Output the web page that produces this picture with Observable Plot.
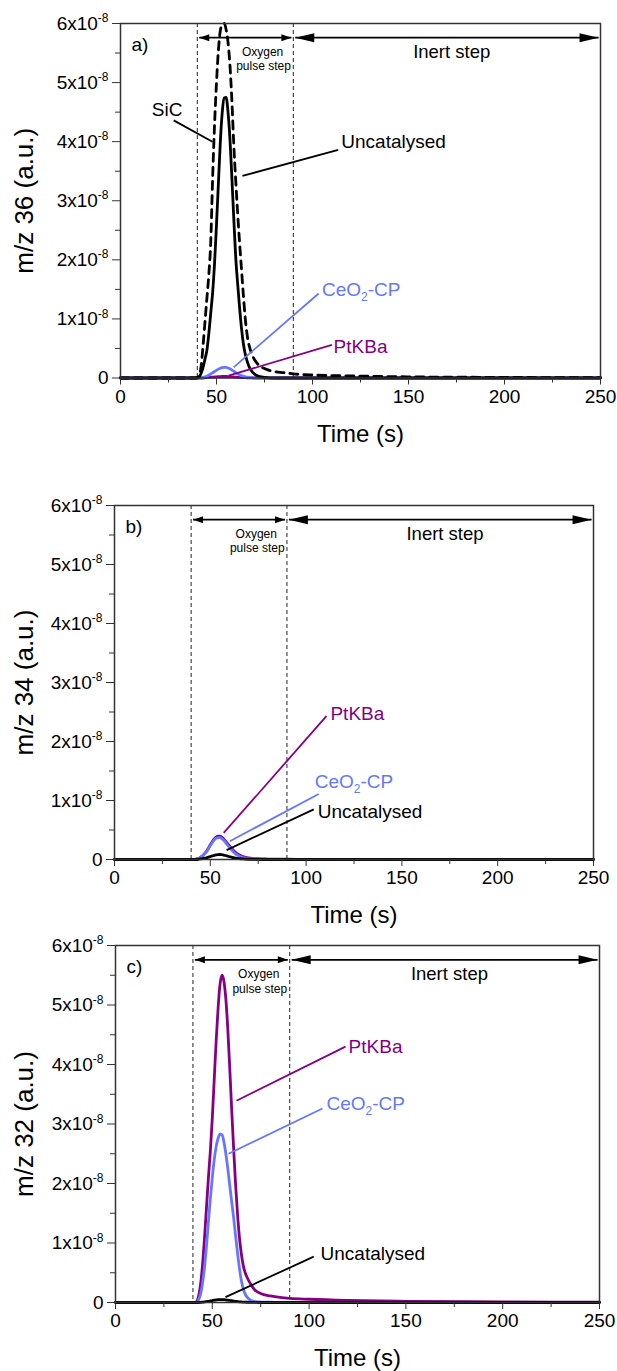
<!DOCTYPE html>
<html><head><meta charset="utf-8">
<script src="https://cdn.jsdelivr.net/npm/d3@7"></script>
<script src="https://cdn.jsdelivr.net/npm/@observablehq/plot@0.6"></script>
<style>
body{margin:0;background:#fff;}
#wrap{position:relative;width:617px;height:1371px;background:#fff;}
.panel{position:absolute;left:0;}
</style></head><body><div id="wrap"></div>
<script>
// ---------- data (values in units of 1e-8 a.u.) ----------
const time = [0,20,38,40,41,42,43,44,45,46,47,48,49,50,51,52,53,54,55,56,57,58,59,60,61,62,63,64,65,66,67,68,70,72,75,80,85,90,100,120,150,200,250];

// panel a: m/z 36
const a_SiC = [0,0,0,0.01,0.05,0.2,0.55,0.95,1.35,1.75,2.3,3.4,4.3,5.0,5.55,5.88,5.98,6.0,5.9,5.68,5.3,4.7,3.95,3.35,2.8,2.3,1.85,1.4,1.0,0.72,0.55,0.44,0.3,0.22,0.16,0.11,0.09,0.07,0.05,0.035,0.02,0.01,0.005];
const a_Uncat = [0,0,0,0,0.02,0.08,0.18,0.32,0.47,0.75,1.1,1.45,1.95,2.6,3.3,4.0,4.5,4.74,4.75,4.5,4.05,3.4,2.7,2.05,1.6,1.2,0.85,0.58,0.4,0.28,0.19,0.13,0.06,0.03,0.01,0,0,0,0,0,0,0,0];
const a_CeO2 = [0,0,0,0,0,0,0.01,0.02,0.03,0.05,0.07,0.09,0.11,0.13,0.15,0.165,0.175,0.18,0.18,0.17,0.155,0.135,0.115,0.09,0.07,0.055,0.04,0.03,0.02,0.015,0.01,0.006,0.003,0,0,0,0,0,0,0,0,0,0];
const a_PtKBa = [0,0,0,0,0,0,0,0.005,0.008,0.01,0.013,0.015,0.018,0.02,0.022,0.024,0.025,0.025,0.025,0.024,0.022,0.02,0.018,0.015,0.012,0.01,0.008,0.006,0.005,0.003,0.002,0.001,0,0,0,0,0,0,0,0,0,0,0];

// panel b: m/z 34
const b_PtKBa = [0,0,0,0,0,0,0.01,0.02,0.04,0.065,0.1,0.14,0.19,0.25,0.3,0.35,0.38,0.395,0.395,0.38,0.35,0.31,0.27,0.23,0.19,0.155,0.125,0.1,0.08,0.065,0.05,0.04,0.028,0.02,0.013,0.008,0.005,0.004,0.003,0.002,0.001,0,0];
const b_CeO2 = [0,0,0,0,0,0,0.008,0.018,0.035,0.06,0.095,0.13,0.18,0.235,0.285,0.33,0.36,0.37,0.37,0.355,0.325,0.285,0.245,0.205,0.165,0.13,0.1,0.078,0.06,0.045,0.034,0.026,0.016,0.01,0.006,0.003,0.002,0.001,0,0,0,0,0];
const b_Uncat = [0,0,0,0,0,0,0,0.005,0.01,0.015,0.022,0.03,0.04,0.05,0.06,0.07,0.078,0.084,0.085,0.082,0.076,0.068,0.058,0.048,0.04,0.032,0.025,0.02,0.015,0.012,0.009,0.007,0.004,0.002,0.001,0,0,0,0,0,0,0,0];

// panel c: m/z 32
const c_PtKBa = [0,0,0,0,0,0.02,0.12,0.32,0.65,1.1,1.6,2.1,2.55,3.1,3.75,4.4,4.95,5.35,5.5,5.4,5.1,4.6,3.95,3.25,2.6,2.0,1.5,1.1,0.82,0.62,0.5,0.42,0.3,0.21,0.15,0.11,0.085,0.07,0.055,0.035,0.02,0.01,0.005];
const c_CeO2 = [0,0,0,0,0,0,0.05,0.15,0.33,0.6,0.95,1.35,1.75,2.1,2.4,2.62,2.76,2.83,2.82,2.7,2.5,2.25,1.97,1.7,1.43,1.13,0.84,0.58,0.37,0.23,0.14,0.09,0.035,0.015,0.008,0.004,0.002,0.001,0,0,0,0,0];
const c_Uncat = [0,0,0,0,0,0,0,0.003,0.006,0.01,0.015,0.02,0.026,0.032,0.038,0.043,0.047,0.05,0.05,0.048,0.045,0.04,0.035,0.03,0.025,0.02,0.016,0.012,0.009,0.007,0.005,0.004,0.002,0.001,0,0,0,0,0,0,0,0,0];

const xTicks = [0,50,100,150,200,250];
const xMinor = [25,75,125,175,225];
const yTicks = [0,1,2,3,4,5,6];
const yMinor = [0.5,1.5,2.5,3.5,4.5,5.5];
const stepBounds = [40, 90];

// ---------- styles ----------
const BLACK = "#000000", BLUE = "#6677ff", PURPLE = "#850085";
const FONT = "'Liberation Sans', Arial, Helvetica, sans-serif";

// ---------- annotation layout (data coordinates) ----------
const panels = [
  {
    top: 0, height: 460, margin: {top: 23, bottom: 82.5, left: 120, right: 17},
    ylabel: "m/z 36 (a.u.)", ylabelDx: -96, tag: "a)",
    series: [
      {v: a_PtKBa, color: PURPLE}, {v: a_CeO2, color: BLUE},
      {v: a_Uncat, color: BLACK}, {v: a_SiC, color: BLACK, dash: "8,6"}
    ],
    labels: [
      {text: "SiC", x: 24.3, y: 4.53, color: BLACK, anchor: "middle"},
      {text: "Uncatalysed", x: 115, y: 3.99, color: BLACK, anchor: "start"},
      {text: "CeO_{2}-CP", x: 104.9, y: 1.49, color: BLUE, anchor: "start"},
      {text: "PtKBa", x: 111, y: 0.53, color: PURPLE, anchor: "start"}
    ],
    pointers: [
      {x1: 27.7, y1: 4.36, x2: 47.9, y2: 4.0, color: BLACK},
      {x1: 113.4, y1: 3.86, x2: 63.5, y2: 3.42, color: BLACK},
      {x1: 103.2, y1: 1.43, x2: 58.9, y2: 0.18, color: BLUE},
      {x1: 110.1, y1: 0.56, x2: 56.3, y2: 0.04, color: PURPLE}
    ]
  },
  {
    top: 460, height: 460, margin: {top: 45, bottom: 61, left: 114, right: 24},
    ylabel: "m/z 34 (a.u.)", ylabelDx: -90, tag: "b)",
    series: [
      {v: b_PtKBa, color: PURPLE}, {v: b_CeO2, color: BLUE}, {v: b_Uncat, color: BLACK}
    ],
    labels: [
      {text: "PtKBa", x: 112.7, y: 2.47, color: PURPLE, anchor: "start"},
      {text: "CeO_{2}-CP", x: 104.5, y: 1.32, color: BLUE, anchor: "start"},
      {text: "Uncatalysed", x: 106.1, y: 0.81, color: BLACK, anchor: "start"}
    ],
    pointers: [
      {x1: 110.6, y1: 2.43, x2: 57, y2: 0.45, color: PURPLE},
      {x1: 106.6, y1: 1.11, x2: 60.2, y2: 0.31, color: BLUE},
      {x1: 104, y1: 0.85, x2: 58.5, y2: 0.16, color: BLACK}
    ]
  },
  {
    top: 920, height: 451, margin: {top: 25, bottom: 69, left: 115, right: 18},
    ylabel: "m/z 32 (a.u.)", ylabelDx: -91, tag: "c)",
    series: [
      {v: c_PtKBa, color: PURPLE}, {v: c_CeO2, color: BLUE}, {v: c_Uncat, color: BLACK}
    ],
    labels: [
      {text: "PtKBa", x: 120.4, y: 4.29, color: PURPLE, anchor: "start"},
      {text: "CeO_{2}-CP", x: 109, y: 3.33, color: BLUE, anchor: "start"},
      {text: "Uncatalysed", x: 105.9, y: 0.82, color: BLACK, anchor: "start"}
    ],
    pointers: [
      {x1: 118.8, y1: 4.3, x2: 62.5, y2: 3.39, color: PURPLE},
      {x1: 106.9, y1: 3.26, x2: 58.4, y2: 2.5, color: BLUE},
      {x1: 102.4, y1: 0.77, x2: 56.8, y2: 0.09, color: BLACK}
    ]
  }
];

// step arrows
const arrowY = 5.76;
const oxygenArrow = {x1: 41, x2: 89};
const inertArrow = {x1: 91, x2: 249};
const stepTexts = [
  {text: "Oxygen", x: 74, y: 5.51, size: 12},
  {text: "pulse step", x: 74.5, y: 5.27, size: 12},
  {text: "Inert step", x: 172.5, y: 5.52, size: 18.5}
];

// custom arrowhead symbols (tip at origin)
const headRight = (L, H) => ({draw(ctx) { ctx.moveTo(0, 0); ctx.lineTo(-L, -H); ctx.lineTo(-L, H); ctx.closePath(); }});
const headLeft = (L, H) => ({draw(ctx) { ctx.moveTo(0, 0); ctx.lineTo(L, -H); ctx.lineTo(L, H); ctx.closePath(); }});

function richify(svg) {
  svg.querySelectorAll("text").forEach(el => {
    if (el.querySelector("tspan")) return;
    const s = el.textContent;
    if (!/[\^_]\{/.test(s)) return;
    const parts = s.split(/([\^_])\{([^}]*)\}/);
    el.textContent = "";
    let shift = 0;
    for (let i = 0; i < parts.length; i += 3) {
      const norm = parts[i];
      if (norm) {
        const ts = document.createElementNS("http://www.w3.org/2000/svg", "tspan");
        ts.textContent = norm;
        if (shift) { ts.setAttribute("dy", -shift); shift = 0; }
        el.appendChild(ts);
      }
      if (i + 1 < parts.length) {
        const ts = document.createElementNS("http://www.w3.org/2000/svg", "tspan");
        ts.textContent = parts[i + 2];
        ts.setAttribute("font-size", 12);
        const d = parts[i + 1] === "^" ? -7.5 : 5;
        ts.setAttribute("dy", d);
        shift = d;
        el.appendChild(ts);
      }
    }
  });
}

const wrap = document.getElementById("wrap");

panels.forEach(p => {
  const marks = [
    Plot.ruleX(stepBounds, {stroke: "#222", strokeWidth: 1, strokeDasharray: "4,3"}),
    ...p.series.map(s => Plot.line(time.map((t, i) => ({t, v: s.v[i]})), {
      x: "t", y: "v", stroke: s.color, strokeWidth: 2.8, curve: "monotone-x",
      strokeDasharray: s.dash
    })),
    Plot.frame({stroke: "#333", strokeWidth: 1.5}),
    Plot.axisX({ticks: xTicks, tickSize: 7, tickPadding: 4, fontSize: 19, label: null, tickFormat: d => String(d), stroke: "#333"}),
    Plot.axisX({ticks: xMinor, tickSize: 5, label: null, tickFormat: () => "", stroke: "#333"}),
    Plot.axisY({ticks: yTicks, tickSize: 8, tickPadding: 4, fontSize: 19, label: null,
      tickFormat: d => d === 0 ? "0" : `${d}x10^{-8}`, stroke: "#333"}),
    Plot.axisY({ticks: yMinor, tickSize: 5, label: null, tickFormat: () => "", stroke: "#333"}),
    // step arrows
    Plot.link([oxygenArrow, inertArrow], {x1: "x1", x2: "x2", y1: () => arrowY, y2: () => arrowY, stroke: BLACK, strokeWidth: 1.8}),
    Plot.dot([oxygenArrow], {x: "x1", y: () => arrowY, symbol: headLeft(10, 3.5), fill: BLACK}),
    Plot.dot([oxygenArrow], {x: "x2", y: () => arrowY, symbol: headRight(10, 3.5), fill: BLACK}),
    Plot.dot([inertArrow], {x: "x1", y: () => arrowY, symbol: headLeft(19, 4.5), fill: BLACK}),
    Plot.dot([inertArrow], {x: "x2", y: () => arrowY, symbol: headRight(19, 4.5), fill: BLACK}),
    ...stepTexts.map(s => Plot.text([s], {x: "x", y: "y", text: "text", fontSize: s.size, fill: BLACK, textAnchor: "middle"})),
    Plot.text([p.tag], {x: () => 5.7, y: () => 5.64, text: d => d, fontSize: 19, textAnchor: "start", fill: BLACK}),
    // annotations
    Plot.link(p.pointers, {x1: "x1", y1: "y1", x2: "x2", y2: "y2", stroke: "color", strokeWidth: 1.8}),
    ...p.labels.map(l => Plot.text([l], {x: "x", y: "y", text: "text", fill: l.color, fontSize: 19, textAnchor: l.anchor})),
    // axis titles
    Plot.text([p.ylabel], {frameAnchor: "left", dx: p.ylabelDx, rotate: -90, text: d => d, fontSize: 26, textAnchor: "middle", lineAnchor: "middle", fill: BLACK}),
    Plot.text(["Time (s)"], {frameAnchor: "bottom", dy: 56, text: d => d, fontSize: 24, textAnchor: "middle", lineAnchor: "middle", fill: BLACK})
  ];
  const svg = Plot.plot({
    width: 617, height: p.height,
    marginTop: p.margin.top, marginBottom: p.margin.bottom,
    marginLeft: p.margin.left, marginRight: p.margin.right,
    x: {domain: [0, 250]},
    y: {domain: [0, 6]},
    color: {type: "identity"},
    style: {fontFamily: FONT, background: "transparent", color: "#000", overflow: "visible"},
    marks
  });
  richify(svg);
  const div = document.createElement("div");
  div.className = "panel";
  div.style.top = p.top + "px";
  div.appendChild(svg);
  wrap.appendChild(div);
});
</script>
</body></html>
